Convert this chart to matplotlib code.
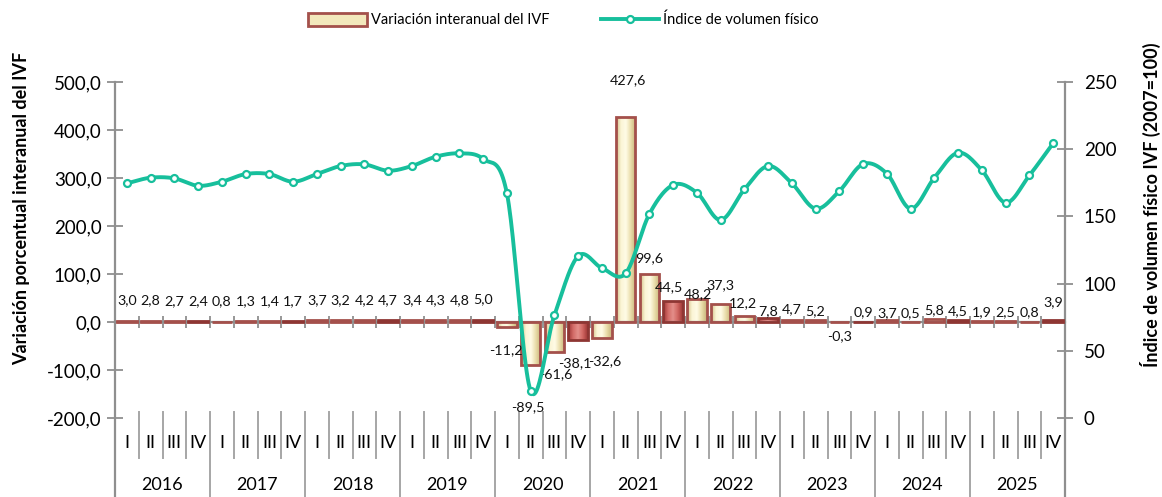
import numpy as np
import matplotlib
matplotlib.use('Agg')
import matplotlib.pyplot as plt
from matplotlib.patches import Patch
from matplotlib.lines import Line2D
from matplotlib.colors import LinearSegmentedColormap
from matplotlib.ticker import FuncFormatter

plt.rcParams['font.family'] = ['Lato', 'DejaVu Sans']

# ---------------- data ----------------
years = ['2016', '2017', '2018', '2019', '2020', '2021', '2022', '2023', '2024', '2025']
quarters = ['I', 'II', 'III', 'IV']

# Variación interanual del IVF (%)
variacion = [3.0, 2.8, 2.7, 2.4,
             0.8, 1.3, 1.4, 1.7,
             3.7, 3.2, 4.2, 4.7,
             3.4, 4.3, 4.8, 5.0,
             -11.2, -89.5, -61.6, -38.1,
             -32.6, 427.6, 99.6, 44.5,
             48.2, 37.3, 12.2, 7.8,
             4.7, 5.2, -0.3, 0.9,
             3.7, 0.5, 5.8, 4.5,
             1.9, 2.5, 0.8, 3.9]

# Índice de volumen físico (2007=100)
indice = [174.6, 178.8, 178.3, 172.8,
          175.8, 181.5, 181.5, 175.8,
          181.5, 187.5, 188.7, 184.0,
          187.5, 194.4, 196.9, 192.7,
          167.2, 20.3, 76.4, 120.5,
          111.6, 107.6, 151.8, 173.4,
          167.6, 147.3, 170.1, 187.5,
          174.6, 155.7, 168.9, 189.0,
          181.8, 155.7, 178.8, 197.4,
          184.3, 160.2, 180.5, 204.4]

left_ticks = [-200, -100, 0, 100, 200, 300, 400, 500]
right_ticks = [0, 50, 100, 150, 200, 250]

# label offsets in pixels (dx, dy) relative to bar end
label_offsets = [(0, 20)] * 16 + [
    (-1, -23), (-3, -42), (1, -23), (-3, -23),
    (3, -24), (2, 37), (0, 16), (-4, 13),
    (1, 5), (0, 19), (-1, 13), (0, 7),
    (0, 11), (-1, 8), (0, -14), (0, 9),
    (0, 7), (0, 9), (0, 9), (0, 9),
    (0, 9), (0, 9), (0, 9), (0, 18)]

# ---------------- style ----------------
TEAL = '#17bf9c'
GRAY = '#8f8f8f'
EDGE_BEIGE = '#a4504b'
EDGE_RED = '#8e3633'
beige_cmap = LinearSegmentedColormap.from_list('beige', ['#d2bf86', '#fbf5d6', '#fffbe6', '#e9dca8', '#c7b47a'])
red_cmap = LinearSegmentedColormap.from_list('redb', ['#9c3533', '#d26a66', '#e48f8a', '#cf6560', '#9c3533'])

FIG_W, FIG_H = 1162, 497
L, B, W, H = 115 / FIG_W, 79 / FIG_H, 950 / FIG_W, 336 / FIG_H

fig = plt.figure(figsize=(FIG_W / 100, FIG_H / 100), dpi=100)
ax = fig.add_axes([L, B, W, H])
ax2 = ax.twinx()

n = len(variacion)
x = np.arange(n) + 0.5
bw = 0.82

# bars with gradient fill
grad = np.linspace(0, 1, 64)[None, :]
for i, v in enumerate(variacion):
    is_q4 = (i % 4 == 3)
    edge = EDGE_RED if is_q4 else EDGE_BEIGE
    cmap = red_cmap if is_q4 else beige_cmap
    bar = ax.bar(x[i], v, width=bw, facecolor='none', edgecolor=edge, linewidth=2.0, zorder=3)[0]
    y0, y1 = sorted([0, v])
    im = ax.imshow(grad, extent=[x[i] - bw / 2, x[i] + bw / 2, y0, y1], aspect='auto',
                   cmap=cmap, zorder=2, interpolation='bilinear')
    im.set_clip_path(bar)

ax.set_xlim(0, n)
ax.set_ylim(-200, 500)
ax.set_aspect('auto')

# data labels
def fmt(v):
    return f"{v:.1f}".replace('.', ',')

for i, v in enumerate(variacion):
    dx, dy = label_offsets[i]
    ax.annotate(fmt(v), xy=(x[i], v), xytext=(dx, dy), textcoords='offset pixels',
                ha='center', va='center', fontsize=10.3, color='#111111', zorder=6,
                annotation_clip=False)

# axes styling
for s in ['top', 'right', 'left']:
    ax.spines[s].set_visible(False)
ax.spines['bottom'].set_position(('data', 0))
ax.spines['bottom'].set_color(GRAY)
ax.spines['bottom'].set_linewidth(1.6)
ax.set_xticks(np.arange(0, n + 1))
ax.tick_params(axis='x', direction='inout', length=9, width=1.3, color=GRAY, labelbottom=False)
ax.set_yticks(left_ticks)
ax.yaxis.set_major_formatter(FuncFormatter(lambda v, p: fmt(v)))
ax.tick_params(axis='y', direction='inout', length=11, width=1.3, color=GRAY, labelsize=13.5, pad=4)

for s in ax2.spines.values():
    s.set_visible(False)
ax2.set_ylim(0, 250)
ax2.set_yticks(right_ticks)
ax2.tick_params(axis='y', direction='inout', length=11, width=1.3, color=GRAY, labelsize=13.5, pad=8)

# manual extended spines (left and right)
xt = ax.get_xaxis_transform()
bottom_frac = -B / H
ax.plot([0, 0], [1, bottom_frac], transform=xt, color=GRAY, lw=1.6, clip_on=False, zorder=1)
ax.plot([n, n], [1, bottom_frac], transform=xt, color=GRAY, lw=1.6, clip_on=False, zorder=1)

# category separators
for k in range(1, n):
    if k % 4 == 0:
        ax.plot([k, k], [0.018, bottom_frac], transform=xt, color='#a6a6a6', lw=1.4, clip_on=False)
    else:
        ax.plot([k, k], [0.018, -0.119], transform=xt, color='#a6a6a6', lw=1.4, clip_on=False)

for i in range(n):
    ax.text(x[i], -0.074, quarters[i % 4], transform=xt, ha='center', va='center', fontsize=13)
for j, yr in enumerate(years):
    ax.text(4 * j + 2, -0.199, yr, transform=xt, ha='center', va='center', fontsize=13)

# smoothed line (Catmull-Rom, like Excel smoothing)
def smooth(xs, ys, steps=24):
    P = np.column_stack([xs, ys]).astype(float)
    P = np.vstack([2 * P[0] - P[1], P, 2 * P[-1] - P[-2]])
    pts = []
    t = np.linspace(0, 1, steps, endpoint=False)[:, None]
    for i in range(1, len(P) - 2):
        p0, p1, p2, p3 = P[i - 1], P[i], P[i + 1], P[i + 2]
        c1 = p1 + (p2 - p0) / 6
        c2 = p2 - (p3 - p1) / 6
        seg = ((1 - t) ** 3) * p1 + 3 * ((1 - t) ** 2) * t * c1 + 3 * (1 - t) * t ** 2 * c2 + t ** 3 * p2
        pts.append(seg)
    pts.append(P[-2][None, :])
    return np.vstack(pts)

curve = smooth(x, indice)
ax2.plot(curve[:, 0], curve[:, 1], color=TEAL, lw=2.8, zorder=4, solid_capstyle='round')
ax2.plot(x, indice, linestyle='none', marker='o', ms=5, mfc='white', mec=TEAL, mew=1.6, zorder=5)

# axis titles
fig.text(22 / FIG_W, 1 - 208 / FIG_H, 'Variación porcentual interanual del IVF', rotation=90,
         ha='center', va='center', fontsize=13, fontweight='bold')
fig.text(1150 / FIG_W, 1 - 205 / FIG_H, 'Índice de volumen físico IVF (2007=100)', rotation=90,
         ha='center', va='center', fontsize=13, fontweight='bold')

# legend
handles = [Patch(facecolor='#f3e8bc', edgecolor=EDGE_BEIGE, linewidth=2.0),
           Line2D([0], [0], color=TEAL, lw=2.8, marker='o', ms=5, mfc='white', mec=TEAL, mew=1.6)]
fig.legend(handles, ['Variación interanual del IVF', 'Índice de volumen físico'],
           loc='center', bbox_to_anchor=(0.485, 1 - 20 / FIG_H), ncol=2, frameon=False,
           fontsize=10.5, handlelength=4, handleheight=1.0, columnspacing=3.5, handletextpad=0.3)

fig.savefig('out.png', dpi=100)
